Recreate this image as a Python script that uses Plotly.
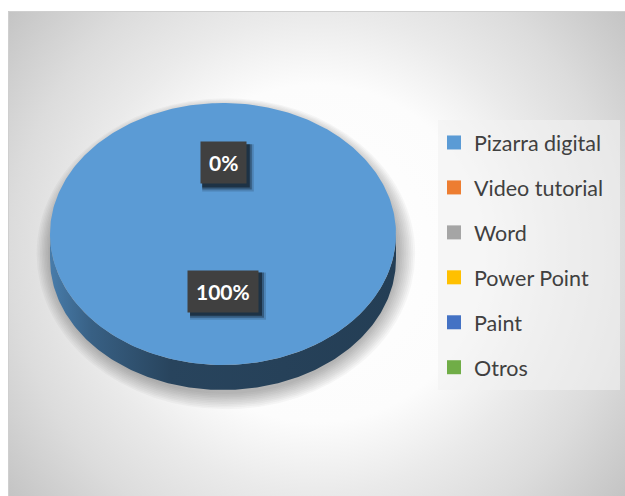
import base64
import numpy as np
import plotly.graph_objects as go

# ---- data -------------------------------------------------------------
categories = ["Pizarra digital", "Video tutorial", "Word", "Power Point", "Paint", "Otros"]
values = [100, 0, 0, 0, 0, 0]
colors = ["#5B9BD5", "#ED7D31", "#A5A5A5", "#FFC000", "#4472C4", "#70AD47"]

# ---- canvas / pie geometry (pixel space) ----------------------------------
W, H = 625, 496
CX, CY = 223, 234          # centre of the top face
RX, RY = 173, 131          # radii of the tilted (elliptical) top face
DEPTH = 25                 # thickness of the pie rim
LABEL_K, LABEL_DY = 0.49, -7
LABEL_SIZE, LABEL_PAD = 21, 8


def shade(hex_color, f):
    h = hex_color.lstrip("#")
    r, g, b = (int(h[i:i + 2], 16) for i in (0, 2, 4))
    return "rgb({},{},{})".format(int(r * f), int(g * f), int(b * f))


def ell(t, dy=0.0):
    # angle measured clockwise from 12 o'clock
    return CX + RX * np.sin(t), CY - RY * np.cos(t) + dy


total = float(sum(values))
fracs = [v / total for v in values]
starts = np.cumsum([0.0] + fracs[:-1])
ends = starts + np.array(fracs)

fig = go.Figure()

# rim (front half of the pie, pi/2 .. 3pi/2)
for cat, col, a, b in zip(categories, colors, starts, ends):
    lo, hi = max(2 * np.pi * a, np.pi / 2), min(2 * np.pi * b, 3 * np.pi / 2)
    if hi <= lo:
        continue
    t = np.linspace(lo, hi, 200)
    ux, uy = ell(t)
    lx, ly = ell(t[::-1], DEPTH)
    fig.add_trace(go.Scatter(
        x=np.concatenate([ux, lx]), y=np.concatenate([uy, ly]),
        mode="lines", fill="toself", line=dict(width=0),
        fillgradient=dict(type="horizontal", colorscale=[
            [0.0, shade(col, 0.80)], [0.12, shade(col, 0.62)],
            [0.35, shade(col, 0.44)], [1.0, shade(col, 0.40)]]),
        legendgroup=cat, showlegend=False, hoverinfo="skip"))

# top face wedges
for cat, col, v, a, b in zip(categories, colors, values, starts, ends):
    if v <= 0:
        continue
    t = np.linspace(2 * np.pi * a, 2 * np.pi * b, 400)
    ex, ey = ell(t)
    fig.add_trace(go.Scatter(
        x=np.concatenate([[CX], ex, [CX]]), y=np.concatenate([[CY], ey, [CY]]),
        mode="lines", fill="toself", fillcolor=col, line=dict(width=0, color=col),
        legendgroup=cat, showlegend=False, name=cat,
        hovertemplate=cat + ": %{text}<extra></extra>", text=[f"{v:g}%"] * (len(ex) + 2)))

# legend entries
for cat, col in zip(categories, colors):
    fig.add_trace(go.Scatter(
        x=[None], y=[None], mode="markers", name=cat, legendgroup=cat,
        marker=dict(symbol="square", size=14, color=col, line=dict(width=0))))

shapes = []
annotations = []

# percentage labels (labels that land on the same spot are drawn once)
placed = {}
for v, a, b in zip(values, starts, ends):
    mid = np.pi * (a + b)
    lx = CX + LABEL_K * RX * np.sin(mid)
    ly = CY - LABEL_K * RY * np.cos(mid) + LABEL_DY
    txt = f"{round(100 * v / total)}%"
    placed.setdefault((round(lx, 1), round(ly, 1), txt), (lx, ly, txt))

char_w = {"%": 0.83}
for lx, ly, txt in placed.values():
    tw = sum(char_w.get(c, 0.58) for c in txt) * LABEL_SIZE
    bw_ = tw + 2 * LABEL_PAD + 2
    bh_ = LABEL_SIZE * 1.3 + 2 * LABEL_PAD
    # blurred drop shadow towards the lower right
    for sh, grow, alpha in ((5, 2, 0.15), (4, 1, 0.3), (3, 0, 0.45)):
        shapes.append(dict(type="rect", xref="x", yref="y", layer="above",
                           x0=lx - bw_ / 2 + sh - grow, x1=lx + bw_ / 2 + sh + grow,
                           y0=ly - bh_ / 2 + sh - grow, y1=ly + bh_ / 2 + sh + grow,
                           fillcolor=f"rgba(0,0,0,{alpha})", line=dict(width=0)))
    annotations.append(dict(
        x=lx, y=ly, xref="x", yref="y", text=txt, showarrow=False,
        bgcolor="#404040", borderpad=LABEL_PAD,
        font=dict(family="Lato", size=LABEL_SIZE, color="white", weight="bold")))

# radial background of the chart area
bw, bh = W - 8, H - 11
svg = f"""<svg xmlns='http://www.w3.org/2000/svg' width='{bw}' height='{bh}'>
<defs><radialGradient id='g' gradientUnits='userSpaceOnUse' cx='{bw/2}' cy='{bh/2}' r='392'>
<stop offset='0' stop-color='#ffffff'/><stop offset='0.43' stop-color='#fcfcfc'/>
<stop offset='0.61' stop-color='#eaeaea'/><stop offset='0.78' stop-color='#dcdcdc'/>
<stop offset='1' stop-color='#c4c4c4'/></radialGradient></defs>
<rect width='{bw}' height='{bh}' fill='url(#g)'/></svg>"""
bg_uri = "data:image/svg+xml;base64," + base64.b64encode(svg.encode()).decode()

# soft drop shadow around the pie body
for i in range(10):
    shapes.append(dict(type="circle", xref="x", yref="y", layer="below",
                       x0=CX - RX - 1 - i * 1.6 + 2, x1=CX + RX + 1 + i * 1.8 + 2,
                       y0=CY - RY + 6 - i * 1.2, y1=CY + RY + DEPTH + 4 + i * 1.7,
                       fillcolor="rgba(0,0,0,0.032)", line=dict(width=0)))
# legend panel
shapes.append(dict(type="rect", xref="x", yref="y", layer="below",
                   x0=438, x1=620, y0=120, y1=390,
                   fillcolor="rgba(242,242,242,0.6)", line=dict(width=0)))
# chart area border
shapes.append(dict(type="rect", xref="x", yref="y", layer="below",
                   x0=8.5, x1=W + 2, y0=11.5, y1=H + 2,
                   fillcolor="rgba(0,0,0,0)", line=dict(color="#cfcfcf", width=1)))

fig.update_layout(
    width=W, height=H,
    margin=dict(l=0, r=0, t=0, b=0),
    paper_bgcolor="white", plot_bgcolor="rgba(0,0,0,0)",
    xaxis=dict(range=[0, W], visible=False, fixedrange=True),
    yaxis=dict(range=[H, 0], visible=False, fixedrange=True),
    showlegend=True,
    legend=dict(x=434 / W, y=1 - 122 / H, xanchor="left", yanchor="top",
                bgcolor="rgba(0,0,0,0)", borderwidth=0, tracegroupgap=14,
                traceorder="grouped",
                font=dict(family="Lato", size=21.5, color="#404040")),
    images=[dict(source=bg_uri, xref="paper", yref="paper", x=8 / W, y=1 - 11 / H,
                 sizex=bw / W, sizey=bh / H, xanchor="left", yanchor="top",
                 sizing="stretch", layer="below")],
    shapes=shapes,
    annotations=annotations,
)

fig.write_html("out.html")
